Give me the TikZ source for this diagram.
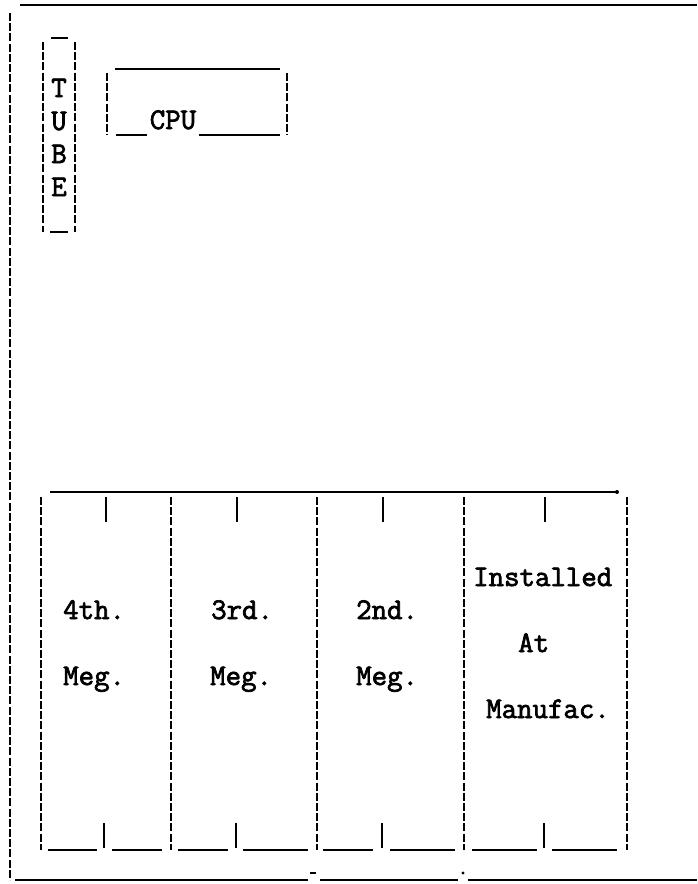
\documentclass[tikz,border=0pt]{standalone}
\usepackage{fontspec}
\newfontfamily\tw{Latin Modern Mono}[FakeBold=2.4]
\begin{document}
\begin{tikzpicture}[x=1pt,y=-1pt,
  vbar/.style={line width=2.6pt, dash pattern=on 8pt off 2.2pt},
  hbar/.style={line width=2.8pt},
  tick/.style={line width=2.6pt},
  txt/.style={font=\tw\fontsize{30}{33}\selectfont, inner sep=0pt, anchor=base west},
  ctxt/.style={font=\tw\fontsize{30}{33}\selectfont, inner sep=0pt, anchor=base}]
\useasboundingbox (0,0) rectangle (697,884);
% outer frame
\draw[hbar] (20,5) -- (697,5);
\draw[vbar] (10,13) -- (10,880);
\draw[hbar] (15,880) -- (308,880);
\draw[hbar] (310,873) -- (316,873);
\draw[hbar] (320,880) -- (458,880);
\fill (463,873) circle (1.7pt);
\draw[hbar] (468,880) -- (600,880);
\draw[line width=1.8pt] (600,880) -- (697,880);
% TUBE
\draw[hbar] (51,38) -- (68,38);
\draw[vbar] (43,42) -- (43,232);
\draw[vbar] (75,42) -- (75,232);
\draw[hbar] (50,232) -- (68,232);
\node[ctxt] (t1) at (59,97) {T};
\node[ctxt] (t2) at (59,130) {U};
\node[ctxt] (t3) at (59,163) {B};
\node[ctxt] (t4) at (59,196) {E};
% CPU
\draw[hbar] (115,69) -- (280,69);
\draw[vbar] (107,73) -- (107,135);
\draw[vbar] (287,73) -- (287,135);
\draw[hbar] (116,135) -- (147,135);
\draw[hbar] (199,135) -- (280,135);
\node[ctxt] (cpu) at (173,129) {CPU};
% memory bank
\draw[hbar] (50,492) -- (617,492);
\fill (617,492) circle (2pt);
\foreach \x in {41,171,317,464,627} \draw[vbar] (\x,497) -- (\x,850);
\foreach \x in {106,237,383,545} \draw[tick] (\x,497) -- (\x,522);
\foreach \x in {104,236,382,544} \draw[tick] (\x,823) -- (\x,848);
\foreach \a/\b in {48/97,112/162,178/228,243/308,323/373,390/455,472/537,552/617}
  \draw[hbar] (\a,850) -- (\b,850);
\node[txt] (m4a) at (63,619) {4th.};
\node[txt] (m4b) at (63,685) {Meg.};
\node[txt] (m3a) at (211,619) {3rd.};
\node[txt] (m3b) at (210,685) {Meg.};
\node[txt] (m2a) at (356,619) {2nd.};
\node[txt] (m2b) at (356,685) {Meg.};
\node[txt] (m1a) at (473,586) {Installed};
\node[txt] (m1b) at (518,652) {At};
\node[txt] (m1c) at (486,718) {Manufac.};
\end{tikzpicture}
\end{document}
